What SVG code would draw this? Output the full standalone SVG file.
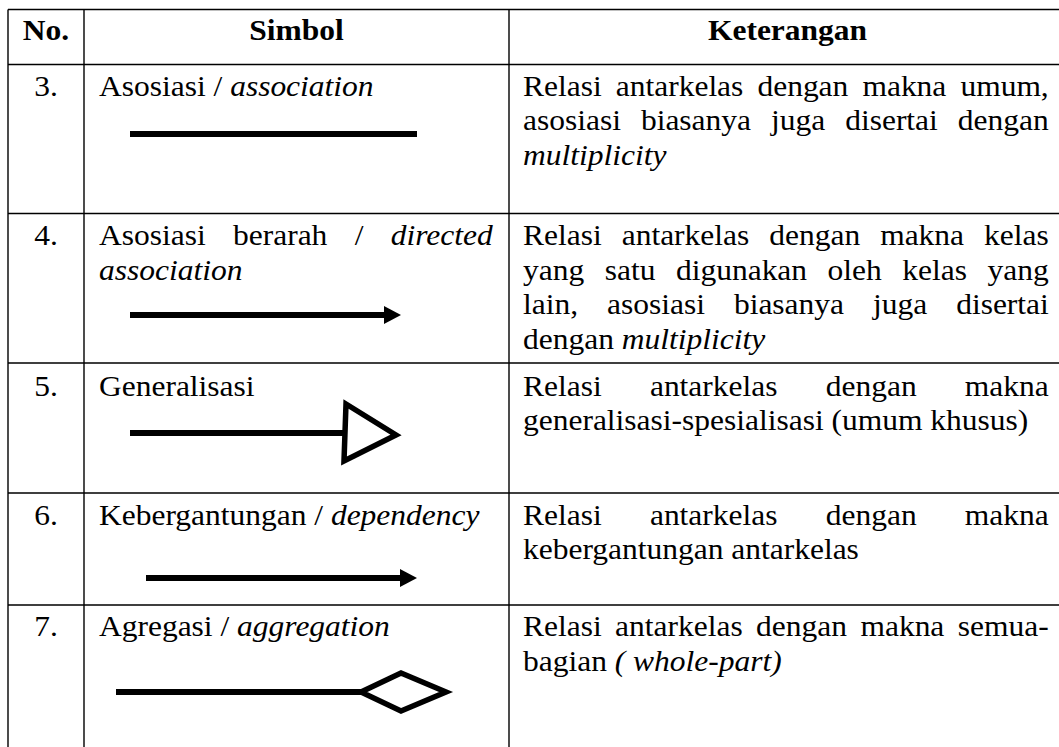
<svg xmlns="http://www.w3.org/2000/svg" width="1059" height="747" viewBox="0 0 1059 747">
<style>
text{font-family:"Liberation Serif","Times New Roman",serif;font-size:28.5px;fill:#000}
.b{font-weight:bold}
.i{font-style:italic}
.m{text-anchor:middle}
.grid{stroke:#000;stroke-width:1.4;fill:none}
.sym{stroke:#000;stroke-width:6;fill:none}
.hd{fill:#000;stroke:none}
.open{stroke:#000;stroke-width:5.5;fill:#fff;stroke-linejoin:miter}
</style>
<defs>
<path id="ah" d="M0,0 L-17,-9 L-17,9 Z"/>
</defs>
<rect width="1059" height="747" fill="#fff"/>
<g id="table" class="grid">
<path d="M8,9.5H1059M8,64.5H1059M8,213.5H1059M8,363H1059M8,493H1059M8,605H1059"/>
<path d="M8,9.5V747M84,9.5V747M509,9.5V747"/>
</g>
<g id="header">
<text class="b m" transform="translate(46,40) scale(1.105,1)">No.</text>
<text class="b m" transform="translate(296.5,40) scale(1.105,1)">Simbol</text>
<text class="b m" transform="translate(787.5,40) scale(1.105,1)">Keterangan</text>
</g>
<g id="row3">
<text class="m" transform="translate(46,95.5) scale(1.105,1)">3.</text>
<text transform="translate(99,95.5) scale(1.105,1)">Asosiasi / <tspan class="i">association</tspan></text>
<text transform="translate(523,95.5) scale(1.105,1)" style="word-spacing:5.64px">Relasi antarkelas dengan makna umum,</text>
<text transform="translate(523,130) scale(1.105,1)" style="word-spacing:10.97px">asosiasi biasanya juga disertai dengan</text>
<text class="i" transform="translate(523,164.5) scale(1.105,1)">multiplicity</text>
</g>
<g id="row4">
<text class="m" transform="translate(46,245) scale(1.105,1)">4.</text>
<text transform="translate(99,245) scale(1.105,1)" style="word-spacing:17.61px">Asosiasi berarah / <tspan class="i">directed</tspan></text>
<text class="i" transform="translate(99,279.5) scale(1.105,1)">association</text>
<text transform="translate(523,245) scale(1.105,1)" style="word-spacing:10.99px">Relasi antarkelas dengan makna kelas</text>
<text transform="translate(523,279.5) scale(1.105,1)" style="word-spacing:11.47px">yang satu digunakan oleh kelas yang</text>
<text transform="translate(523,314) scale(1.105,1)" style="word-spacing:19.1px">lain, asosiasi biasanya juga disertai</text>
<text transform="translate(523,348.5) scale(1.105,1)">dengan <tspan class="i">multiplicity</tspan></text>
</g>
<g id="row5">
<text class="m" transform="translate(46,395.5) scale(1.105,1)">5.</text>
<text transform="translate(99,395.5) scale(1.105,1)">Generalisasi</text>
<text transform="translate(523,395.5) scale(1.105,1)" style="word-spacing:36.54px">Relasi antarkelas dengan makna</text>
<text transform="translate(523,430) scale(1.105,1)">generalisasi-spesialisasi (umum khusus)</text>
</g>
<g id="row6">
<text class="m" transform="translate(46,524.5) scale(1.105,1)">6.</text>
<text transform="translate(99,524.5) scale(1.105,1)">Kebergantungan / <tspan class="i">dependency</tspan></text>
<text transform="translate(523,524.5) scale(1.105,1)" style="word-spacing:36.54px">Relasi antarkelas dengan makna</text>
<text transform="translate(523,559) scale(1.105,1)">kebergantungan antarkelas</text>
</g>
<g id="row7">
<text class="m" transform="translate(46,636) scale(1.105,1)">7.</text>
<text transform="translate(99,636) scale(1.105,1)">Agregasi / <tspan class="i">aggregation</tspan></text>
<text transform="translate(523,636) scale(1.105,1)" style="word-spacing:5.04px">Relasi antarkelas dengan makna semua-</text>
<text transform="translate(523,670.5) scale(1.105,1)">bagian <tspan class="i">( whole-part)</tspan></text>
</g>
<g id="connectors">
<path id="association" class="sym" d="M130,134H417"/>
<g id="directed-association">
<path class="sym" d="M130,315H386"/>
<use href="#ah" class="hd" transform="translate(401,315)"/>
</g>
<g id="generalization">
<path class="sym" d="M130,433H345"/>
<polygon class="open" points="346,404 344,461 396,435"/>
</g>
<g id="dependency">
<path class="sym" d="M146,578H402"/>
<use href="#ah" class="hd" transform="translate(417,578)"/>
</g>
<g id="aggregation">
<path class="sym" d="M116,692H362"/>
<polygon class="open" points="361,692 401,673 446,692 401,711"/>
</g>
</g>
</svg>
